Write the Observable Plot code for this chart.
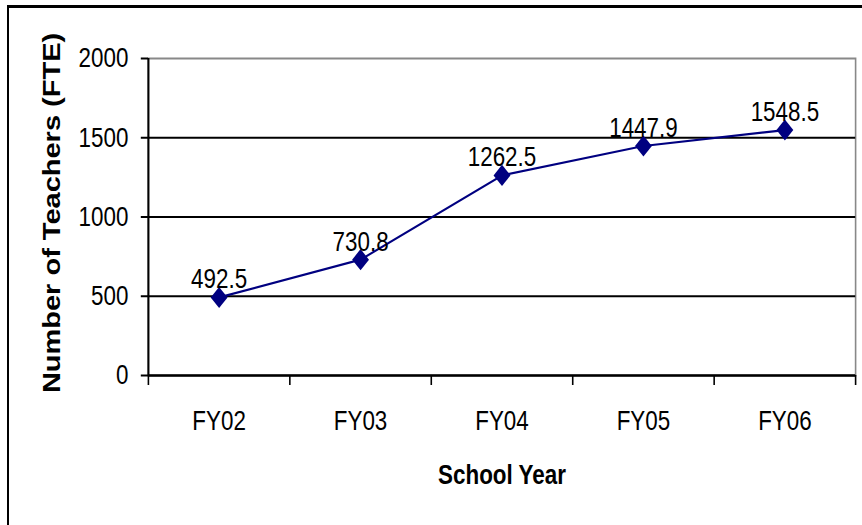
<!DOCTYPE html>
<html>
<head>
<meta charset="utf-8">
<script src="https://cdn.jsdelivr.net/npm/d3@7"></script>
<script src="https://cdn.jsdelivr.net/npm/@observablehq/plot@0.6"></script>
<style>
  html, body { margin: 0; padding: 0; background: white; overflow: hidden; }
  #wrap { position: relative; width: 862px; height: 525px; overflow: hidden; background: white; }
  #wrap svg { position: absolute; left: 0; top: 0; width: 1078px !important; height: 525px !important; max-width: none !important;
              transform: scaleX(0.8); transform-origin: 0 0; z-index: 1; }
  #border { position: absolute; left: 7px; top: 5px; width: 880px; height: 560px; z-index: 2;
            border-left: 2px solid black; border-top: 3px solid black; pointer-events: none; }
</style>
</head>
<body>
<div id="wrap"><div id="border"></div></div>
<script>
const categories = ["FY02", "FY03", "FY04", "FY05", "FY06"];
const teachers = [492.5, 730.8, 1262.5, 1447.9, 1548.5];
const yTicks = [0, 500, 1000, 1500, 2000];
const gridValues = [500, 1000, 1500];
const yTitle = "Number of Teachers (FTE)";
const xTitle = "School Year";

const data = categories.map((c, i) => ({i: i + 0.5, year: c, value: teachers[i]}));

const chart = Plot.plot({
  width: 1078,
  height: 525,
  marginLeft: 185,
  marginRight: 9,
  marginTop: 58,
  marginBottom: 150,
  style: {fontFamily: "'Liberation Sans', Arial, sans-serif", fontSize: "28px", color: "black", background: "white", overflow: "visible"},
  x: {type: "linear", domain: [0, categories.length]},
  y: {domain: [0, 2000]},
  marks: [
    Plot.frame({stroke: "#888", strokeWidth: 2}),
    Plot.ruleY(gridValues, {stroke: "black", strokeWidth: 2}),
    Plot.axisY({ticks: yTicks, tickSize: 9, tickPadding: 16, tickFormat: d => String(d), fontSize: 28, label: null, strokeWidth: 2, fill: "black"}),
    Plot.axisX({ticks: d3.range(categories.length + 1), tickSize: 10, tickFormat: () => "", label: null, strokeWidth: 2}),
    Plot.axisX({ticks: data.map(d => d.i), tickSize: 0, tickPadding: 35, tickFormat: v => categories[Math.floor(v)], fontSize: 28, label: null, fill: "black"}),
    Plot.ruleX([0], {stroke: "black", strokeWidth: 2.5}),
    Plot.ruleY([0], {stroke: "black", strokeWidth: 2.5}),
    Plot.line(data, {x: "i", y: "value", stroke: "#000080", strokeWidth: 2.2}),
    Plot.dot(data, {x: "i", y: "value", symbol: "diamond2", r: 9.5, fill: "#000080", stroke: "none"}),
    Plot.text(data, {x: "i", y: "value", text: d => d.value.toFixed(1), lineAnchor: "bottom", dy: -9, fontSize: 28, fill: "black"}),
    Plot.text([0], {text: () => yTitle, frameAnchor: "left", textAnchor: "middle", lineAnchor: "middle", rotate: -90, dx: -120, dy: -4, fontWeight: "bold", fontSize: 29, fill: "black"}),
    Plot.text([0], {text: () => xTitle, frameAnchor: "bottom", lineAnchor: "bottom", dy: 108, fontWeight: "bold", fontSize: 28, fill: "black"})
  ]
});

document.getElementById("wrap").appendChild(chart);
</script>
</body>
</html>
